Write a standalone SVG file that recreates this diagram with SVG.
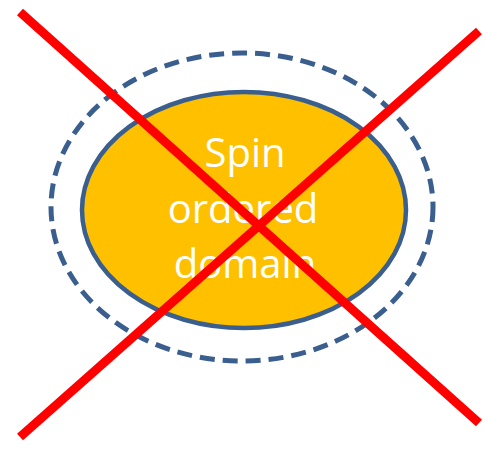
<svg xmlns="http://www.w3.org/2000/svg" width="486" height="451" viewBox="0 0 486 451">
  <style>
    .halo { fill: none; stroke: #3A5F8F; stroke-width: 5; stroke-dasharray: 15 8; }
    .core { fill: #FFC000; stroke: #3A5F8F; stroke-width: 4.5; }
    .label { font-family: "Open Sans", "Liberation Sans", sans-serif; font-size: 40px; fill: #FFFFFF; text-anchor: middle; }
    .cross { stroke: #FF0000; stroke-width: 9; stroke-linecap: butt; }
  </style>
  <rect width="486" height="451" fill="#FFFFFF"/>
  <g id="halo">
    <ellipse class="halo" cx="242" cy="207" rx="191" ry="154"/>
  </g>
  <g id="domain">
    <ellipse class="core" cx="244" cy="210" rx="162" ry="118"/>
    <text class="label" x="245" y="167">Spin</text>
    <text class="label" x="243" y="223">ordered</text>
    <text class="label" x="245" y="278">domain</text>
  </g>
  <g id="cross">
    <line class="cross" x1="20" y1="12" x2="479" y2="423"/>
    <line class="cross" x1="479" y1="31" x2="20" y2="437"/>
  </g>
</svg>
